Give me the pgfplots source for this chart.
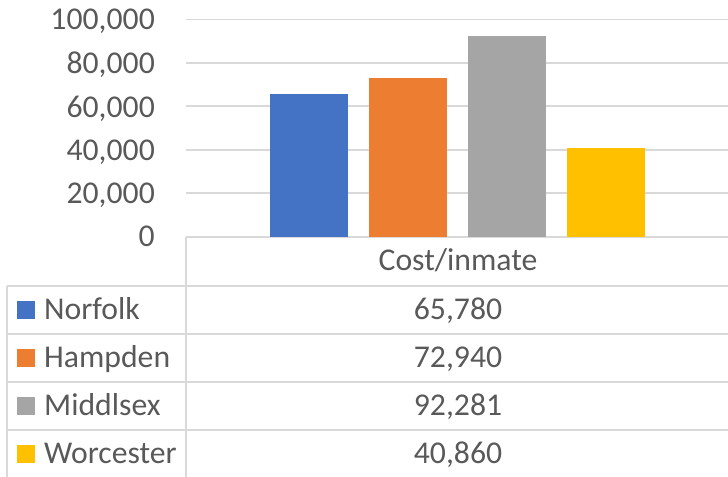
\documentclass[border=0pt]{standalone}
\usepackage{pgfplots}
\pgfplotsset{compat=1.18}
\usepackage{fontspec}
\setmainfont{Carlito}
\definecolor{c1}{HTML}{4472C4}
\definecolor{c2}{HTML}{ED7D31}
\definecolor{c3}{HTML}{A5A5A5}
\definecolor{c4}{HTML}{FFC000}
\definecolor{txt}{HTML}{595959}
\definecolor{gridc}{HTML}{D9D9D9}
\begin{document}
\fontsize{31.7bp}{38bp}\selectfont
\begin{tikzpicture}[x=1bp,y=1bp]
\useasboundingbox (0,0) rectangle (728,477);
\begin{axis}[
  at={(186bp,240.3bp)}, anchor=south west,
  scale only axis, width=542bp, height=217.2bp,
  xmin=-1, xmax=1, ymin=0, ymax=100000,
  ybar=21bp, bar width=78bp,
  xtick=\empty,
  ytick={0,20000,40000,60000,80000,100000},
  yticklabels={0,{20,000},{40,000},{60,000},{80,000},{100,000}},
  ymajorgrids, grid style={draw=gridc, line width=1.8bp},
  axis line style={draw=none},
  major tick length=0pt,
  scaled y ticks=false,
  yticklabel style={font=\fontsize{31.7bp}{38bp}\selectfont, text=txt, inner sep=0pt, anchor=east, xshift=-31bp, text depth=0pt},
  clip=false,
]
\addplot[fill=c1, draw=none] coordinates {(0,65780)};
\addplot[fill=c2, draw=none] coordinates {(0,72940)};
\addplot[fill=c3, draw=none] coordinates {(0,92281)};
\addplot[fill=c4, draw=none] coordinates {(0,40860)};
\end{axis}
% data table grid
\begin{scope}[draw=gridc, line width=1.8bp]
\draw (186,240.3) -- (186,0);
\draw (7,191) -- (7,0);
\draw (7,191) -- (728,191);
\draw (7,143) -- (728,143);
\draw (7,95) -- (728,95);
\draw (7,47) -- (728,47);
\end{scope}
\begin{scope}[every node/.style={text=txt, inner sep=0pt}]
\node[anchor=base] at (458,206) {Cost/inmate};
\node[anchor=base] at (458,157) {65,780};
\node[anchor=base] at (458,109) {72,940};
\node[anchor=base] at (458,61) {92,281};
\node[anchor=base] at (458,13) {40,860};
\node[anchor=base west] at (44,157) {Norfolk};
\node[anchor=base west] at (44,109) {Hampden};
\node[anchor=base west] at (44,61) {Middlsex};
\node[anchor=base west] at (44,13) {Worcester};
\end{scope}
\fill[c1] (17,158) rectangle (35,176);
\fill[c2] (17,110) rectangle (35,128);
\fill[c3] (17,62) rectangle (35,80);
\fill[c4] (17,14) rectangle (35,32);
\end{tikzpicture}
\end{document}
